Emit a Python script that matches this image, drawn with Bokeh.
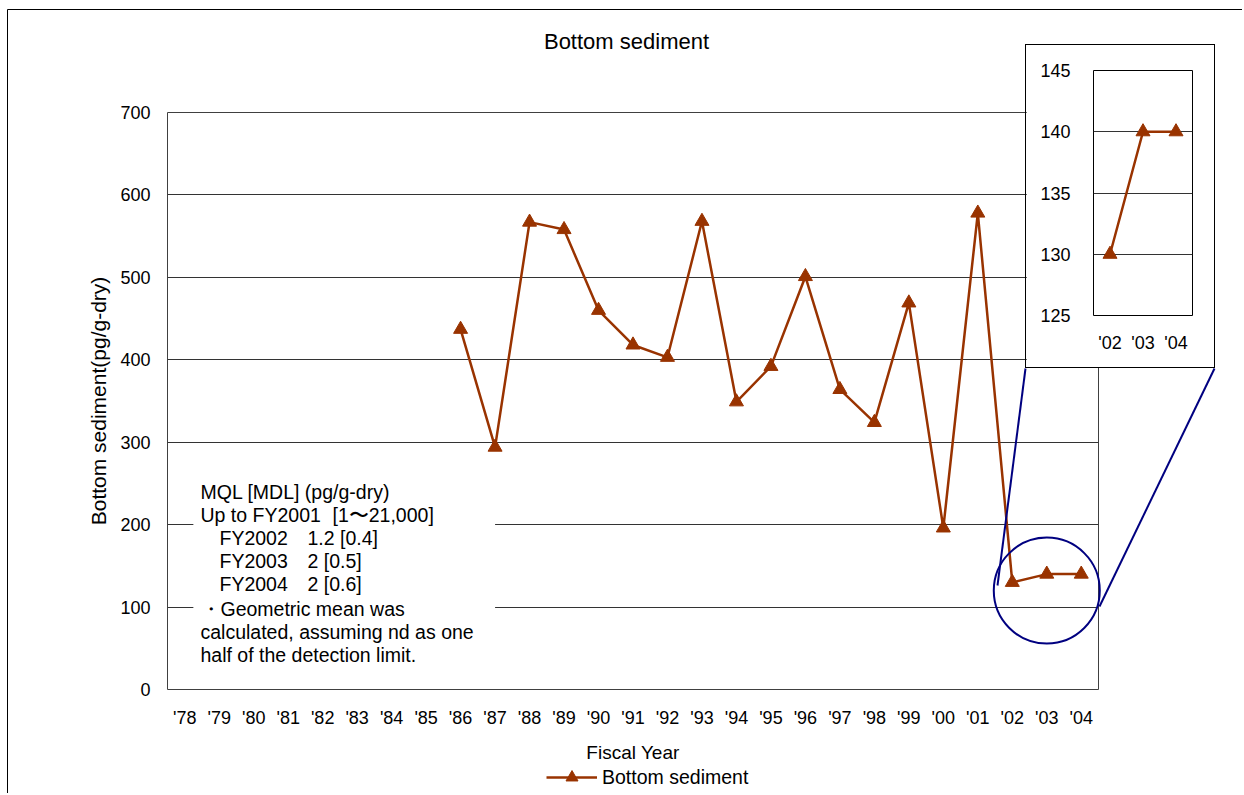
from bokeh.plotting import figure
from bokeh.models import (Range1d, FactorRange, FixedTicker, Label, BoxAnnotation,
                          Legend, LegendItem, GridBox)
from bokeh.embed import file_html
from bokeh.resources import INLINE

# ---------------- data ----------------
years = ["'78", "'79", "'80", "'81", "'82", "'83", "'84", "'85", "'86", "'87",
         "'88", "'89", "'90", "'91", "'92", "'93", "'94", "'95", "'96", "'97",
         "'98", "'99", "'00", "'01", "'02", "'03", "'04"]
data_years = ["'86", "'87", "'88", "'89", "'90", "'91", "'92", "'93", "'94", "'95",
              "'96", "'97", "'98", "'99", "'00", "'01", "'02", "'03", "'04"]
values = [437, 294, 567, 558, 460, 418, 403, 568, 349, 392,
          501, 364, 324, 469, 196, 578, 130, 140, 140]
y_ticks = [0, 100, 200, 300, 400, 500, 600, 700]

inset_years = ["'02", "'03", "'04"]
inset_values = [130, 140, 140]
inset_ticks = [125, 130, 135, 140, 145]

note_lines = [
    ("MQL [MDL] (pg/g-dry)", 0),
    ("Up to FY2001", 0),
    ("FY2002", 1),
    ("FY2003", 1),
    ("FY2004", 1),
    ("・Geometric mean was", 0),
    ("calculated, assuming nd as one", 0),
    ("half of the detection limit.", 0),
]
note_values = [None, "[1〜21,000]", "1.2 [0.4]", "2 [0.5]", "2 [0.6]", None, None, None]

FONT = "Liberation Sans"
COLOR = "#993300"
BLUE = "#000080"
W, H = 1242, 793

# ---------------- main chart ----------------
p = figure(x_range=FactorRange(factors=years), y_range=Range1d(0, 700),
           frame_width=931, frame_height=577,
           min_border_left=167, min_border_right=W - 167 - 931,
           min_border_top=112, min_border_bottom=H - 112 - 577,
           output_backend="svg", toolbar_location=None,
           background_fill_color="white", border_fill_color="white",
           frame_align=False)
p.outline_line_color = "#404040"

for ax in (p.xaxis, p.yaxis):
    ax.axis_line_color = None
    ax.major_tick_in = 0
    ax.major_tick_out = 0
    ax.minor_tick_in = 0
    ax.minor_tick_out = 0
    ax.major_label_text_font = FONT
    ax.major_label_text_font_size = "18px"
    ax.major_label_text_color = "black"
    ax.axis_label_text_font = FONT
    ax.axis_label_text_font_style = "normal"
    ax.axis_label_text_color = "black"

p.yaxis.ticker = FixedTicker(ticks=y_ticks)
p.yaxis.major_label_standoff = 17
p.yaxis.axis_label = "Bottom sediment(pg/g-dry)"
p.yaxis.axis_label_text_font_size = "21px"
p.yaxis.axis_label_standoff = 7

p.xaxis.major_label_standoff = 18
p.xaxis.axis_label = "Fiscal Year"
p.xaxis.axis_label_text_font_size = "19px"
p.xaxis.axis_label_standoff = 11

p.xgrid.grid_line_color = None
p.ygrid.grid_line_color = "#333333"
p.ygrid.grid_line_width = 1

p.line(data_years, values, line_color=COLOR, line_width=2.5)
p.scatter(data_years, values, marker="triangle", size=14,
          fill_color=COLOR, line_color=COLOR)

# white note box hiding grid lines
p.add_layout(BoxAnnotation(left=0.75, right=9.5, bottom=18, top=262,
                           fill_color="white", fill_alpha=1.0, line_color=None))

center_y = [198, 175, 152, 129, 106, 81, 58, 35]
for (txt, indent), val, yy in zip(note_lines, note_values, center_y):
    p.add_layout(Label(x=33 + 19 * indent, y=yy, x_units="screen", y_units="screen",
                       text=txt, text_font=FONT, text_font_size="19.5px",
                       text_baseline="middle", text_color="black"))
    if val is not None:
        vx = 165 if indent == 0 else 140
        p.add_layout(Label(x=vx, y=yy, x_units="screen", y_units="screen",
                           text=val, text_font=FONT, text_font_size="19.5px",
                           text_baseline="middle", text_color="black"))

# zoom circle around the last three years
p.scatter(x=["'03"], y=[120], marker="circle", size=106, fill_color=None,
          line_color=BLUE, line_width=2, level="overlay")

# ---------------- inset ----------------
q = figure(x_range=FactorRange(factors=inset_years), y_range=Range1d(125, 145),
           frame_width=97, frame_height=243,
           min_border_left=67, min_border_right=24,
           min_border_top=25, min_border_bottom=54,
           output_backend="svg", toolbar_location=None,
           background_fill_color="white", border_fill_color="white",
           frame_align=False,
           styles={"border": "1px solid black"})
q.outline_line_color = "black"
for ax in (q.xaxis, q.yaxis):
    ax.axis_line_color = None
    ax.major_tick_in = 0
    ax.major_tick_out = 0
    ax.minor_tick_in = 0
    ax.minor_tick_out = 0
    ax.major_label_text_font = FONT
    ax.major_label_text_font_size = "18px"
    ax.major_label_text_color = "black"
q.yaxis.ticker = FixedTicker(ticks=inset_ticks)
q.yaxis.major_label_standoff = 23
q.xaxis.major_label_standoff = 17
q.xgrid.grid_line_color = None
q.ygrid.grid_line_color = "#333333"
q.line(inset_years, inset_values, line_color=COLOR, line_width=2.5)
q.scatter(inset_years, inset_values, marker="triangle", size=14,
          fill_color=COLOR, line_color=COLOR)

# ---------------- overlay: chart border, title, callout lines, legend ----------------
o = figure(width=W, height=H, x_range=Range1d(0, W), y_range=Range1d(H, 0),
           min_border=0, x_axis_location=None, y_axis_location=None,
           toolbar_location=None, output_backend="svg",
           background_fill_color=None, border_fill_color=None,
           outline_line_color=None, frame_align=False)
o.grid.visible = False
o.segment(x0=[7, 7], y0=[9, 9], x1=[W, 7], y1=[9, H], line_color="black", line_width=1)
o.segment(x0=[997, 1099], y0=[585, 606], x1=[1025, 1214], y1=[368, 368],
          line_color=BLUE, line_width=2)
o.add_layout(Label(x=626, y=41, text="Bottom sediment", text_align="center",
                   text_baseline="middle", text_font=FONT, text_font_size="22px",
                   text_color="black"))

# legend key renderers (off-canvas proxies with the series styling)
lg_line = o.line(x=[-100, -90], y=[-100, -100], line_color=COLOR, line_width=2.5)
lg_pts = o.scatter(x=[-100], y=[-100], marker="triangle", fill_color=COLOR,
                   line_color=COLOR)
legend = Legend(items=[LegendItem(label="Bottom sediment", renderers=[lg_line, lg_pts])],
                location=(546, H - 792), glyph_width=51, glyph_height=30,
                label_standoff=5, padding=0, margin=0, border_line_color=None,
                background_fill_alpha=0, label_text_font=FONT,
                label_text_font_size="19.5px", label_text_color="black")
o.add_layout(legend)

layout = GridBox(children=[(p, 0, 0, 3, 3), (q, 1, 1, 1, 1), (o, 0, 0, 3, 3)],
                 rows=["44px", "324px", "%dpx" % (H - 368)],
                 cols=["1025px", "190px", "%dpx" % (W - 1215)])

open("out.html", "w").write(file_html(layout, INLINE))
